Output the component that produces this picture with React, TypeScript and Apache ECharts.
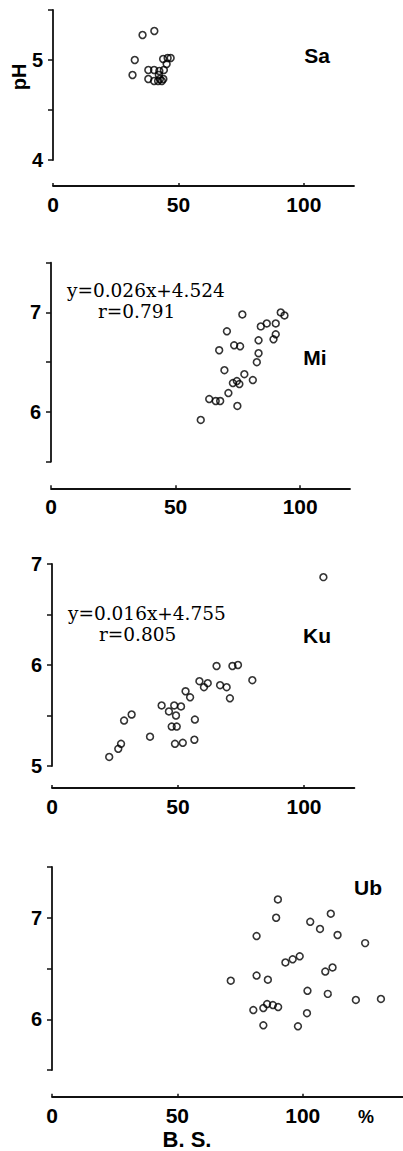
import React, { useEffect, useRef } from "react";
import * as echarts from "echarts";

// Base saturation (B.S., %) vs pH, four soil groups
const saData: number[][] = [
  [35.7, 5.25], [40.4, 5.29], [32.6, 5.0], [31.7, 4.85], [38, 4.9], [38, 4.81],
  [40.3, 4.9], [40.3, 4.79], [42.4, 4.89], [44.2, 4.9], [43.9, 5.01], [45.7, 5.02],
  [46.9, 5.02], [45.3, 4.96], [42.2, 4.85], [42.6, 4.81], [44, 4.81], [41.9, 4.79],
  [43.4, 4.79],
];
const miData: number[][] = [
  [76.8, 6.98], [92.2, 7.0], [93.7, 6.97], [86.6, 6.89], [84.2, 6.86], [90.2, 6.89],
  [70.6, 6.81], [90.2, 6.78], [89.3, 6.73], [83.3, 6.72], [73.5, 6.67], [75.9, 6.66],
  [67.5, 6.62], [83.3, 6.59], [82.6, 6.5], [69.6, 6.42], [77.6, 6.38], [81, 6.32],
  [73, 6.29], [74.6, 6.31], [75.6, 6.28], [71.2, 6.19], [63.5, 6.13], [66.1, 6.11],
  [67.9, 6.11], [74.8, 6.06], [60.1, 5.92],
];
const kuData: number[][] = [
  [107.7, 6.87], [65.3, 5.99], [71.6, 5.99], [73.8, 6.0], [79.5, 5.85], [58.5, 5.84],
  [60.3, 5.78], [61.8, 5.82], [66.7, 5.8], [69.3, 5.78], [70.6, 5.67], [53, 5.74],
  [54.8, 5.68], [43.5, 5.6], [46.4, 5.54], [48.5, 5.6], [51.2, 5.59], [49.2, 5.5],
  [31.6, 5.51], [28.6, 5.45], [56.7, 5.46], [47.5, 5.39], [49.5, 5.39], [38.9, 5.29],
  [56.5, 5.26], [48.8, 5.22], [51.9, 5.23], [27.4, 5.22], [26.3, 5.17], [22.7, 5.09],
];
const ubData: number[][] = [
  [90.1, 7.18], [89.4, 7.0], [111.2, 7.04], [103, 6.96], [106.9, 6.89], [81.6, 6.82],
  [113.9, 6.83], [124.9, 6.75], [98.8, 6.62], [96, 6.59], [93.1, 6.56], [111.9, 6.51],
  [109, 6.47], [71.3, 6.38], [81.6, 6.43], [86.1, 6.39], [101.9, 6.28], [110, 6.25],
  [121.2, 6.19], [131.2, 6.2], [85.8, 6.15], [88.1, 6.14], [90.2, 6.12], [84.3, 6.11],
  [80.3, 6.09], [101.7, 6.06], [84.3, 5.94], [98.1, 5.93],
];

const panelNames = ["Sa", "Mi", "Ku", "Ub"];
const xMaxes = [120, 120, 120, 140];
const yMins = [4, 5.5, 5, 5.5];
const yMaxes = [5.5, 7.5, 7, 7.5];
const xTickValues = [0, 50, 100];
const equations = ["", "y=0.026x+4.524", "y=0.016x+4.755", ""];
const correlations = ["", "r=0.791", "r=0.805", ""];
const yAxisTitle = "pH";
const xAxisTitle = "B. S.";
const xUnit = "%";

const SANS = "'Liberation Sans', Arial, sans-serif";
const SERIF = "'DejaVu Serif', 'Liberation Serif', serif";

export default function App() {
  const ref = useRef<HTMLDivElement>(null);
  useEffect(() => {
    if (!ref.current) return;
    const chart = echarts.init(ref.current, undefined, { renderer: "svg" });
    const datasets = [saData, miData, kuData, ubData];
    const grids = [
      { left: 53, top: 10, width: 301, height: 150 },
      { left: 51, top: 262.7, width: 299, height: 199 },
      { left: 52, top: 564, width: 302.4, height: 202 },
      { left: 52, top: 867, width: 352.8, height: 203 },
    ];
    const xOffsets = [26, 26.6, 22, 26.7];
    const axisColor = "#111";
    const option: any = {
      animation: false,
      backgroundColor: "#fff",
      grid: grids,
      xAxis: grids.map((_, i) => ({
        type: "value",
        gridIndex: i,
        min: 0,
        max: xMaxes[i],
        interval: 50,
        offset: xOffsets[i],
        axisLine: { show: true, lineStyle: { color: axisColor, width: 1.8 } },
        axisTick: { show: true, inside: true, length: 3, customValues: xTickValues, lineStyle: { color: axisColor, width: 1.5 } },
        axisLabel: {
          customValues: xTickValues,
          margin: 8,
          color: "#000",
          fontFamily: SANS,
          fontWeight: "bold",
          fontSize: 21,
        },
        splitLine: { show: false },
      })),
      yAxis: grids.map((_, i) => ({
        type: "value",
        gridIndex: i,
        min: yMins[i],
        max: yMaxes[i],
        interval: 0.5,
        axisLine: { show: true, lineStyle: { color: axisColor, width: 1.8 } },
        axisTick: { show: true, inside: false, length: 5, lineStyle: { color: axisColor, width: 1.5 } },
        axisLabel: {
          margin: 10,
          color: "#000",
          fontFamily: SANS,
          fontWeight: "bold",
          fontSize: 20,
          formatter: (v: number) => (Math.abs(v - Math.round(v)) < 1e-6 ? String(Math.round(v)) : ""),
        },
        splitLine: { show: false },
      })),
      series: datasets.map((d, i) => ({
        type: "scatter",
        name: panelNames[i],
        xAxisIndex: i,
        yAxisIndex: i,
        data: d,
        symbol: "circle",
        symbolSize: 6.8,
        itemStyle: { color: "rgba(0,0,0,0)", borderColor: "#000", borderWidth: 1.6 },
      })),
      graphic: [
        { type: "text", x: 317, y: 55, style: { text: panelNames[0], align: "center", verticalAlign: "middle", font: `bold 21px ${SANS}`, fill: "#000" } },
        { type: "text", x: 315, y: 357, style: { text: panelNames[1], align: "center", verticalAlign: "middle", font: `bold 21px ${SANS}`, fill: "#000" } },
        { type: "text", x: 317, y: 635, style: { text: panelNames[2], align: "center", verticalAlign: "middle", font: `bold 21px ${SANS}`, fill: "#000" } },
        { type: "text", x: 368, y: 887, style: { text: panelNames[3], align: "center", verticalAlign: "middle", font: `bold 21px ${SANS}`, fill: "#000" } },
        { type: "text", x: 67, y: 290, style: { text: equations[1], align: "left", verticalAlign: "middle", font: `18.5px ${SERIF}`, fill: "#000" } },
        { type: "text", x: 98, y: 311, style: { text: correlations[1], align: "left", verticalAlign: "middle", font: `18.5px ${SERIF}`, fill: "#000" } },
        { type: "text", x: 68, y: 613, style: { text: equations[2], align: "left", verticalAlign: "middle", font: `18.5px ${SERIF}`, fill: "#000" } },
        { type: "text", x: 99, y: 634, style: { text: correlations[2], align: "left", verticalAlign: "middle", font: `18.5px ${SERIF}`, fill: "#000" } },
        { type: "text", x: 19, y: 77, rotation: Math.PI / 2, style: { text: yAxisTitle, align: "center", verticalAlign: "middle", font: `bold 20px ${SANS}`, fill: "#000" } },
        { type: "text", x: 187, y: 1139, style: { text: xAxisTitle, align: "center", verticalAlign: "middle", font: `bold 22px ${SANS}`, fill: "#000" } },
        { type: "text", x: 366, y: 1117, style: { text: xUnit, align: "center", verticalAlign: "middle", font: `bold 18px ${SANS}`, fill: "#000" } },
      ],
    };
    chart.setOption(option);
    return () => chart.dispose();
  }, []);
  return (
    <div
      ref={ref}
      style={{ position: "absolute", left: 0, top: 0, width: 403, height: 1151, background: "#fff" }}
    />
  );
}
